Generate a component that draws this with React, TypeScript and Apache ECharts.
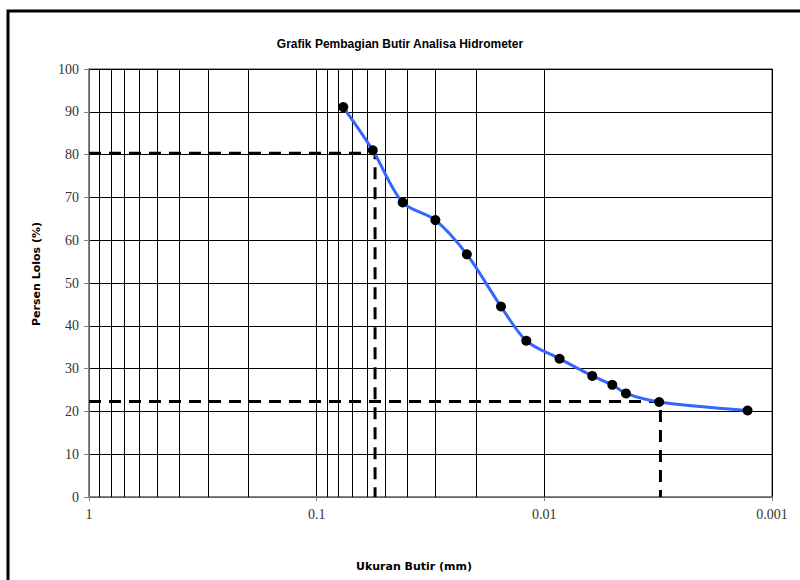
import React, { useEffect, useRef } from "react";
import * as echarts from "echarts";

// Grain size (mm) and percent passing
const grainSize = [0.0764, 0.0567, 0.0419, 0.0301, 0.0219, 0.0155, 0.0120, 0.00857, 0.00616, 0.00503, 0.00438, 0.00313, 0.00128];
const percentPassing = [91.1, 81.0, 68.8, 64.7, 56.7, 44.5, 36.5, 32.3, 28.3, 26.2, 24.2, 22.2, 20.2];

// Reference (dashed) lines
const refD1 = 0.0554;
const refP1 = 80.3;
const refD2 = 0.00309;
const refP2 = 22.3;

// Axis ticks
const xTickLabels = ["1", "0.1", "0.01", "0.001"];
const decades = [1, 0.1, 0.01];
const minorMultipliers = [0.2, 0.3, 0.4, 0.5, 0.6, 0.7, 0.8, 0.9];

const title = "Grafik Pembagian Butir Analisa Hidrometer";
const xName = "Ukuran Butir (mm)";
const yName = "Persen Lolos (%)";

export default function App() {
  const ref = useRef<HTMLDivElement>(null);

  useEffect(() => {
    document.body.style.margin = "0";
    document.body.style.overflow = "hidden";
    const chart = echarts.init(ref.current!, undefined, { renderer: "svg" });

    const minorGrid: number[] = [];
    decades.forEach((d) => minorMultipliers.forEach((m) => minorGrid.push(d * m)));

    const points = grainSize.map((d, i) => [d, percentPassing[i]]);

    chart.setOption({
      animation: false,
      backgroundColor: "#ffffff",
      title: {
        text: title,
        left: "center",
        top: 33,
        textStyle: {
          fontFamily: "Liberation Sans",
          fontWeight: "bold",
          fontSize: 12,
          color: "#000",
        },
      },
      grid: {
        left: 89,
        top: 69,
        width: 683,
        height: 428,
        show: true,
        borderColor: "#808080",
        borderWidth: 1.5,
        containLabel: false,
      },
      xAxis: {
        type: "log",
        logBase: 10,
        min: 0.001,
        max: 1,
        inverse: true,
        axisLine: { show: true, lineStyle: { color: "#808080", width: 1.5 } },
        axisTick: { show: true, length: 4, lineStyle: { color: "#808080" } },
        splitLine: { show: true, lineStyle: { color: "#000", width: 1 } },
        axisLabel: {
          margin: 10,
          fontFamily: "Liberation Serif",
          fontSize: 14,
          color: "#333",
          formatter: (v: number) => xTickLabels[Math.round(-Math.log10(v))] ?? String(v),
        },
      },
      yAxis: {
        type: "value",
        min: 0,
        max: 100,
        interval: 10,
        axisLine: { show: true, lineStyle: { color: "#808080", width: 1.5 } },
        axisTick: { show: true, length: 5, lineStyle: { color: "#808080" } },
        splitLine: { show: true, lineStyle: { color: "#000", width: 1 } },
        axisLabel: {
          margin: 10,
          fontFamily: "Liberation Serif",
          fontSize: 14,
          color: "#333",
        },
      },
      graphic: [
        {
          type: "polyline",
          shape: { points: [[8, 620], [8, 11], [820, 11]] },
          style: { fill: "none", stroke: "#000", lineWidth: 3 },
          silent: true,
        },
        {
          type: "text",
          x: 414,
          y: 566,
          style: {
            text: xName,
            fontFamily: "DejaVu Sans",
            fontWeight: "bold",
            fontSize: 11,
            fill: "#000",
            align: "center",
            verticalAlign: "middle",
          },
        },
        {
          type: "text",
          x: 36,
          y: 274,
          rotation: Math.PI / 2,
          style: {
            text: yName,
            fontFamily: "DejaVu Sans",
            fontWeight: "bold",
            fontSize: 11,
            fill: "#000",
            align: "center",
            verticalAlign: "middle",
          },
        },
      ],
      series: [
        {
          name: "grid",
          type: "line",
          data: [],
          silent: true,
          z: 1,
          markLine: {
            silent: true,
            symbol: ["none", "none"],
            label: { show: false },
            lineStyle: { color: "#000", width: 1, type: "solid" },
            data: minorGrid.map((v) => ({ xAxis: v })),
          },
        },
        {
          name: "ref1",
          type: "line",
          data: [[1, refP1], [refD1, refP1], [refD1, 0]],
          symbol: "none",
          z: 3,
          lineStyle: { color: "#000", width: 3, type: [12, 8] },
        },
        {
          name: "ref2",
          type: "line",
          data: [[1, refP2], [refD2, refP2], [refD2, 0]],
          symbol: "none",
          z: 3,
          lineStyle: { color: "#000", width: 3, type: [12, 8] },
        },
        {
          name: "Persen Lolos",
          type: "line",
          data: points,
          smooth: 0.3,
          symbol: "circle",
          symbolSize: 10,
          z: 5,
          itemStyle: { color: "#000" },
          lineStyle: { color: "#3366ff", width: 3 },
        },
      ],
    });

    return () => chart.dispose();
  }, []);

  return <div ref={ref} style={{ width: 800, height: 580 }} />;
}
